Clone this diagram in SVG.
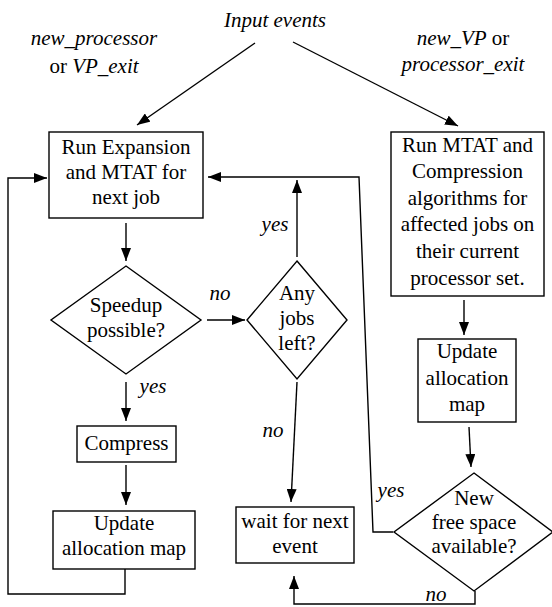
<svg xmlns="http://www.w3.org/2000/svg" width="552" height="607" viewBox="0 0 552 607" font-family="Liberation Serif, DejaVu Serif, serif">
<defs>
<marker id="ah" markerUnits="userSpaceOnUse" markerWidth="13" markerHeight="10" refX="13" refY="5" orient="auto">
<path d="M0,0 L13,5 L0,10 z" fill="#000"/>
</marker>
<style>
text{font-family:"Liberation Serif","DejaVu Serif",serif;font-size:21px;fill:#000;text-anchor:middle}
.i{font-style:italic}
.s{fill:#fff;stroke:#000;stroke-width:1.4}
.c{fill:none;stroke:#000;stroke-width:1.4}
.a{marker-end:url(#ah)}
</style>
</defs>
<rect width="552" height="607" fill="#fff"/>
<g id="labels">
<text class="i" x="275" y="27">Input events</text>
<text class="i" x="94" y="45">new_processor</text>
<text x="94" y="73">or <tspan font-style="italic">VP_exit</tspan></text>
<text x="463" y="45"><tspan font-style="italic">new_VP</tspan> or</text>
<text class="i" x="463" y="71">processor_exit</text>
</g>
<g id="connectors">
<line class="c a" x1="255" y1="43" x2="137" y2="125"/>
<line class="c a" x1="293" y1="42" x2="458" y2="126"/>
<line class="c a" x1="126" y1="223" x2="126" y2="261"/>
<line class="c a" x1="207" y1="320" x2="245" y2="320"/>
<text class="i" x="220" y="300">no</text>
<line class="c a" x1="297" y1="257" x2="297" y2="180"/>
<text class="i" x="275" y="231">yes</text>
<line class="c a" x1="297" y1="382" x2="291" y2="502"/>
<text class="i" x="273" y="437">no</text>
<line class="c a" x1="126" y1="382" x2="126" y2="421"/>
<text class="i" x="153" y="393">yes</text>
<line class="c a" x1="126" y1="465" x2="126" y2="505"/>
<polyline class="c a" points="125,569 125,594 8,594 8,178 47,178"/>
<polyline class="c a" points="393,532 373,532 359,177 208,177"/>
<text class="i" x="391" y="497">yes</text>
<line class="c a" x1="464" y1="300" x2="464" y2="335"/>
<line class="c a" x1="469" y1="427" x2="471" y2="467"/>
<polyline class="c a" points="475,591 475,604 294,604 294,576"/>
<text class="i" x="436" y="601">no</text>
</g>
<g id="n_expansion">
<rect class="s" x="49" y="132" width="154" height="86"/>
<text x="126" y="154">Run Expansion</text>
<text x="126" y="179">and MTAT for</text>
<text x="126" y="204">next job</text>
</g>
<g id="n_speedup">
<polygon class="s" points="126,266 201,320 126,374 51,320"/>
<text x="126" y="312">Speedup</text>
<text x="126" y="337">possible?</text>
</g>
<g id="n_anyjobs">
<polygon class="s" points="297,261 347,320 297,379 247,320"/>
<text x="297" y="300">Any</text>
<text x="297" y="325">jobs</text>
<text x="297" y="350">left?</text>
</g>
<g id="n_compress">
<rect class="s" x="77" y="426" width="99" height="36"/>
<text x="126.5" y="450">Compress</text>
</g>
<g id="n_update_left">
<rect class="s" x="53" y="511" width="142" height="58"/>
<text x="124" y="530">Update</text>
<text x="124" y="555">allocation map</text>
</g>
<g id="n_wait">
<rect class="s" x="236" y="507" width="118" height="56"/>
<text x="295" y="528">wait for next</text>
<text x="295" y="553">event</text>
</g>
<g id="n_mtat">
<rect class="s" x="391" y="132" width="153" height="164"/>
<text x="467.5" y="152">Run MTAT and</text>
<text x="467.5" y="178">Compression</text>
<text x="467.5" y="205">algorithms for</text>
<text x="467.5" y="231">affected jobs on</text>
<text x="467.5" y="258">their current</text>
<text x="467.5" y="285">processor set.</text>
</g>
<g id="n_update_right">
<rect class="s" x="418" y="339" width="98" height="83"/>
<text x="467" y="358">Update</text>
<text x="467" y="385">allocation</text>
<text x="467" y="411">map</text>
</g>
<g id="n_newspace">
<polygon class="s" points="474,473 553,532 474,591 394,532"/>
<text x="474" y="505">New</text>
<text x="474" y="529">free space</text>
<text x="474" y="553">available?</text>
</g>
</svg>
